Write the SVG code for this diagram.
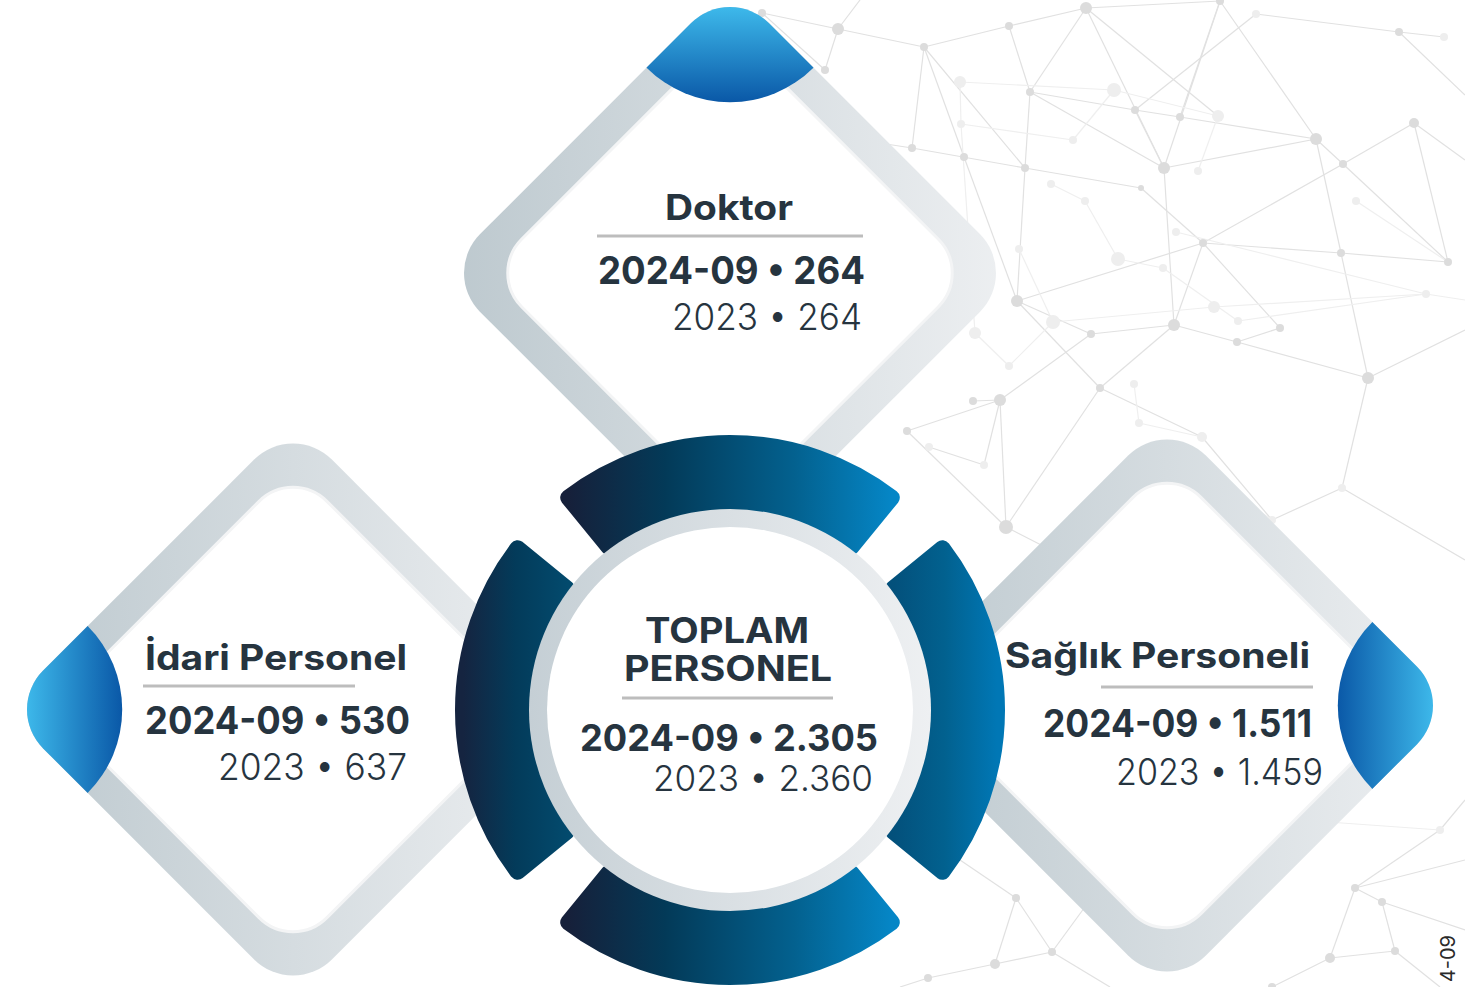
<svg xmlns="http://www.w3.org/2000/svg" width="1465" height="987" viewBox="0 0 1465 987">
<style>
.net{stroke:#e1e1e1;stroke-width:1.2;fill:none}
.netl{stroke:#efefef;stroke-width:1.2;fill:none}
.dot{fill:#dcdcdc}
.dotl{fill:#eeeeee}
.t{font-family:Inter,"Noto Sans","Liberation Sans",sans-serif;fill:#26343f}
.b{font-weight:700}
.l{font-weight:300}
.rule{stroke:#bdbdbd;stroke-width:3}
.seg{stroke-width:16;stroke-linejoin:round}
</style>
<defs>
<linearGradient id="band" x1="0" y1="1" x2="1" y2="0">
<stop offset="0" stop-color="#bcc8ce"/>
<stop offset="1" stop-color="#eef0f2"/>
</linearGradient>
<linearGradient id="capTop" gradientUnits="userSpaceOnUse" x1="0" y1="8" x2="0" y2="102">
<stop offset="0" stop-color="#3db8ea"/>
<stop offset="1" stop-color="#0a58a7"/>
</linearGradient>
<linearGradient id="capLeft" gradientUnits="userSpaceOnUse" x1="27" y1="0" x2="122" y2="0">
<stop offset="0" stop-color="#3db8ea"/>
<stop offset="1" stop-color="#0a58a7"/>
</linearGradient>
<linearGradient id="capRight" gradientUnits="userSpaceOnUse" x1="1337" y1="0" x2="1433" y2="0">
<stop offset="0" stop-color="#0a58a7"/>
<stop offset="1" stop-color="#3db8ea"/>
</linearGradient>
<linearGradient id="segTB" x1="0" y1="0" x2="1" y2="0">
<stop offset="0" stop-color="#16203a"/>
<stop offset="0.3" stop-color="#033a58"/>
<stop offset="0.7" stop-color="#03618f"/>
<stop offset="1" stop-color="#0586c6"/>
</linearGradient>
<linearGradient id="segL" x1="0" y1="0" x2="1" y2="0">
<stop offset="0" stop-color="#152440"/>
<stop offset="0.5" stop-color="#033b5a"/>
<stop offset="1" stop-color="#034a6d"/>
</linearGradient>
<linearGradient id="segR" x1="0" y1="0" x2="1" y2="0">
<stop offset="0" stop-color="#03507b"/>
<stop offset="0.5" stop-color="#02618f"/>
<stop offset="1" stop-color="#0077b5"/>
</linearGradient>
<linearGradient id="ringGrey" gradientUnits="userSpaceOnUse" x1="529" y1="0" x2="931" y2="0">
<stop offset="0" stop-color="#c5cfd5"/>
<stop offset="1" stop-color="#eef0f2"/>
</linearGradient>
<clipPath id="dTop"><rect x="-204.2" y="-204.2" width="408.4" height="408.4" rx="55" transform="translate(730 273) rotate(45)"/></clipPath>
<clipPath id="dLeft"><rect x="-204.2" y="-204.2" width="408.4" height="408.4" rx="55" transform="translate(293 709.5) rotate(45)"/></clipPath>
<clipPath id="dRight"><rect x="-204.2" y="-204.2" width="408.4" height="408.4" rx="55" transform="translate(1167 705.5) rotate(45)"/></clipPath>
</defs>
<rect width="1465" height="987" fill="#ffffff"/>

<g id="background-network">
<g class="net">
<line x1="762" y1="13" x2="838" y2="29"/>
<line x1="838" y1="29" x2="825" y2="70"/>
<line x1="762" y1="13" x2="825" y2="70"/>
<line x1="838" y1="29" x2="860" y2="0"/>
<line x1="838" y1="29" x2="924" y2="47"/>
<line x1="1086" y1="8" x2="1009" y2="26"/>
<line x1="1009" y1="26" x2="924" y2="47"/>
<line x1="1086" y1="8" x2="1220" y2="1"/>
<line x1="1086" y1="8" x2="1030" y2="92"/>
<line x1="1086" y1="8" x2="1164" y2="168"/>
<line x1="1086" y1="8" x2="1218" y2="116"/>
<line x1="1009" y1="26" x2="1030" y2="92"/>
<line x1="924" y1="47" x2="912" y2="148"/>
<line x1="924" y1="47" x2="964" y2="157"/>
<line x1="924" y1="47" x2="1025" y2="168"/>
<line x1="1030" y1="92" x2="1135" y2="110"/>
<line x1="1135" y1="110" x2="1180" y2="117"/>
<line x1="1180" y1="117" x2="1316" y2="139"/>
<line x1="1030" y1="92" x2="1164" y2="168"/>
<line x1="1030" y1="92" x2="1025" y2="168"/>
<line x1="1025" y1="168" x2="1017" y2="301"/>
<line x1="912" y1="148" x2="1025" y2="168"/>
<line x1="1025" y1="168" x2="1141" y2="188"/>
<line x1="1141" y1="188" x2="1203" y2="243"/>
<line x1="1164" y1="168" x2="1316" y2="139"/>
<line x1="1164" y1="168" x2="1174" y2="325"/>
<line x1="1164" y1="168" x2="1135" y2="110"/>
<line x1="1220" y1="1" x2="1180" y2="117"/>
<line x1="1220" y1="1" x2="1316" y2="139"/>
<line x1="1220" y1="1" x2="1164" y2="168"/>
<line x1="1256" y1="14" x2="1399" y2="32"/>
<line x1="1399" y1="32" x2="1444" y2="37"/>
<line x1="1399" y1="32" x2="1465" y2="95"/>
<line x1="1256" y1="14" x2="1135" y2="110"/>
<line x1="1316" y1="139" x2="1343" y2="164"/>
<line x1="1343" y1="164" x2="1414" y2="123"/>
<line x1="1414" y1="123" x2="1448" y2="262"/>
<line x1="1343" y1="164" x2="1448" y2="262"/>
<line x1="1343" y1="164" x2="1203" y2="243"/>
<line x1="1316" y1="139" x2="1341" y2="253"/>
<line x1="1341" y1="253" x2="1368" y2="378"/>
<line x1="1203" y1="243" x2="1341" y2="253"/>
<line x1="1341" y1="253" x2="1448" y2="262"/>
<line x1="1203" y1="243" x2="1017" y2="301"/>
<line x1="1203" y1="243" x2="1174" y2="325"/>
<line x1="1203" y1="243" x2="1280" y2="328"/>
<line x1="1017" y1="301" x2="1091" y2="334"/>
<line x1="1091" y1="334" x2="1174" y2="325"/>
<line x1="1174" y1="325" x2="1237" y2="342"/>
<line x1="1237" y1="342" x2="1280" y2="328"/>
<line x1="1237" y1="342" x2="1368" y2="378"/>
<line x1="1017" y1="301" x2="1100" y2="388"/>
<line x1="1174" y1="325" x2="1100" y2="388"/>
<line x1="1100" y1="388" x2="1202" y2="437"/>
<line x1="1000" y1="400" x2="907" y2="431"/>
<line x1="1000" y1="400" x2="1091" y2="334"/>
<line x1="1000" y1="400" x2="973" y2="401"/>
<line x1="964" y1="157" x2="1017" y2="301"/>
<line x1="912" y1="148" x2="860" y2="140"/>
<line x1="1000" y1="400" x2="1006" y2="527"/>
<line x1="1100" y1="388" x2="1006" y2="527"/>
<line x1="907" y1="431" x2="1006" y2="527"/>
<line x1="1006" y1="527" x2="1090" y2="570"/>
<line x1="929" y1="447" x2="984" y2="465"/>
<line x1="984" y1="465" x2="1000" y2="400"/>
<line x1="1272" y1="520" x2="1342" y2="488"/>
<line x1="1342" y1="488" x2="1368" y2="378"/>
<line x1="1272" y1="520" x2="1202" y2="437"/>
<line x1="1368" y1="378" x2="1465" y2="330"/>
<line x1="1414" y1="123" x2="1465" y2="160"/>
<line x1="1342" y1="488" x2="1465" y2="560"/>
<line x1="1355" y1="888" x2="1382" y2="902"/>
<line x1="1382" y1="902" x2="1395" y2="951"/>
<line x1="1395" y1="951" x2="1330" y2="958"/>
<line x1="1330" y1="958" x2="1355" y2="888"/>
<line x1="1355" y1="888" x2="1465" y2="860"/>
<line x1="1382" y1="902" x2="1465" y2="930"/>
<line x1="1395" y1="951" x2="1440" y2="987"/>
<line x1="1330" y1="958" x2="1272" y2="987"/>
<line x1="1355" y1="888" x2="1440" y2="830"/>
<line x1="1440" y1="830" x2="1465" y2="800"/>
<line x1="995" y1="964" x2="928" y2="978"/>
<line x1="995" y1="964" x2="1016" y2="898"/>
<line x1="1016" y1="898" x2="1052" y2="952"/>
<line x1="1052" y1="952" x2="995" y2="964"/>
<line x1="1052" y1="952" x2="1110" y2="987"/>
<line x1="928" y1="978" x2="900" y2="987"/>
<line x1="1016" y1="898" x2="960" y2="860"/>
<line x1="1052" y1="952" x2="1090" y2="900"/>
</g>
<g class="netl">
<line x1="960" y1="82" x2="961" y2="124"/>
<line x1="961" y1="124" x2="975" y2="333"/>
<line x1="960" y1="82" x2="1114" y2="90"/>
<line x1="1114" y1="90" x2="1218" y2="116"/>
<line x1="1218" y1="116" x2="1198" y2="171"/>
<line x1="1051" y1="184" x2="1085" y2="201"/>
<line x1="1085" y1="201" x2="1118" y2="259"/>
<line x1="1118" y1="259" x2="1163" y2="268"/>
<line x1="1176" y1="232" x2="1426" y2="294"/>
<line x1="1019" y1="249" x2="1053" y2="322"/>
<line x1="1053" y1="322" x2="1214" y2="307"/>
<line x1="1214" y1="307" x2="1426" y2="294"/>
<line x1="975" y1="333" x2="1009" y2="366"/>
<line x1="1134" y1="384" x2="1139" y2="423"/>
<line x1="1073" y1="140" x2="1114" y2="90"/>
<line x1="1356" y1="201" x2="1448" y2="262"/>
<line x1="1009" y1="366" x2="1053" y2="322"/>
<line x1="961" y1="124" x2="1073" y2="140"/>
<line x1="1238" y1="321" x2="1426" y2="294"/>
<line x1="1163" y1="268" x2="1238" y2="321"/>
<line x1="1139" y1="423" x2="1202" y2="437"/>
<line x1="1426" y1="294" x2="1465" y2="300"/>
<line x1="1272" y1="520" x2="1200" y2="470"/>
<line x1="1440" y1="830" x2="1300" y2="820"/>
</g>
<g class="dot">
<circle cx="1086" cy="8" r="6"/><circle cx="1009" cy="26" r="4"/><circle cx="924" cy="47" r="4"/>
<circle cx="1220" cy="1" r="4"/><circle cx="1399" cy="32" r="4"/><circle cx="1030" cy="92" r="4"/>
<circle cx="1135" cy="110" r="4"/><circle cx="1180" cy="117" r="4"/><circle cx="1316" cy="139" r="6"/>
<circle cx="1414" cy="123" r="5"/><circle cx="1343" cy="164" r="4"/><circle cx="912" cy="148" r="4"/>
<circle cx="964" cy="157" r="4"/><circle cx="1025" cy="168" r="4"/><circle cx="1164" cy="168" r="6"/>
<circle cx="1141" cy="188" r="3"/><circle cx="1203" cy="243" r="4"/><circle cx="1341" cy="253" r="4"/>
<circle cx="1448" cy="262" r="4"/><circle cx="1017" cy="301" r="6"/><circle cx="1091" cy="334" r="4"/>
<circle cx="1174" cy="325" r="6"/><circle cx="1280" cy="328" r="4"/><circle cx="1237" cy="342" r="4"/>
<circle cx="1368" cy="378" r="6"/><circle cx="1100" cy="388" r="4"/><circle cx="1000" cy="400" r="6"/>
<circle cx="973" cy="401" r="4"/><circle cx="907" cy="431" r="4"/><circle cx="762" cy="13" r="4"/>
<circle cx="838" cy="29" r="6"/><circle cx="825" cy="70" r="4"/><circle cx="1006" cy="527" r="7"/>
<circle cx="1355" cy="888" r="4"/><circle cx="1382" cy="902" r="4"/><circle cx="1395" cy="951" r="4"/>
<circle cx="1330" cy="958" r="5"/><circle cx="1272" cy="987" r="4"/><circle cx="995" cy="964" r="5"/>
<circle cx="928" cy="978" r="4"/><circle cx="1016" cy="898" r="4"/><circle cx="1052" cy="952" r="4"/>
</g>
<g class="dotl">
<circle cx="1256" cy="14" r="4"/><circle cx="1444" cy="37" r="4"/><circle cx="1114" cy="90" r="7"/>
<circle cx="1218" cy="116" r="6"/><circle cx="1198" cy="171" r="4"/><circle cx="1356" cy="201" r="4"/>
<circle cx="961" cy="124" r="4"/><circle cx="960" cy="82" r="6"/><circle cx="1085" cy="201" r="4"/>
<circle cx="1051" cy="184" r="4"/><circle cx="1019" cy="249" r="4"/><circle cx="1118" cy="259" r="7"/>
<circle cx="1163" cy="268" r="4"/><circle cx="1176" cy="232" r="4"/><circle cx="1053" cy="322" r="7"/>
<circle cx="1214" cy="307" r="6"/><circle cx="1238" cy="321" r="4"/><circle cx="1426" cy="294" r="4"/>
<circle cx="975" cy="333" r="6"/><circle cx="1009" cy="366" r="4"/><circle cx="1202" cy="437" r="5"/>
<circle cx="1134" cy="384" r="4"/><circle cx="1139" cy="423" r="4"/><circle cx="1073" cy="140" r="4"/>
<circle cx="929" cy="447" r="4"/><circle cx="984" cy="465" r="4"/><circle cx="1272" cy="520" r="4"/>
<circle cx="1342" cy="488" r="4"/><circle cx="1440" cy="830" r="4"/><circle cx="1300" cy="820" r="4"/>
</g>
</g>

<g id="connectors"></g>

<g id="node-doktor">
<rect x="-204.2" y="-204.2" width="408.4" height="408.4" rx="55" fill="url(#band)" transform="translate(730 273) rotate(45)"/>
<rect x="-171.2" y="-171.2" width="342.4" height="342.4" rx="48" fill="#ffffff" stroke="#f3f4f5" stroke-width="3" transform="translate(730 273) rotate(45)"/>
<circle cx="730" cy="-15.8" r="118" fill="url(#capTop)" clip-path="url(#dTop)"/>
<text class="t b" x="665" y="220" font-size="35" textLength="128" lengthAdjust="spacingAndGlyphs">Doktor</text>
<line class="rule" x1="597" y1="236" x2="863" y2="236"/>
<text class="t b" x="598" y="284" font-size="38" textLength="267" lengthAdjust="spacingAndGlyphs">2024-09 • 264</text>
<text class="t l" x="672" y="330" font-size="37" textLength="190" lengthAdjust="spacingAndGlyphs">2023 • 264</text>
</g>

<g id="node-idari-personel">
<rect x="-204.2" y="-204.2" width="408.4" height="408.4" rx="55" fill="url(#band)" transform="translate(293 709.5) rotate(45)"/>
<rect x="-171.2" y="-171.2" width="342.4" height="342.4" rx="48" fill="#ffffff" stroke="#f3f4f5" stroke-width="3" transform="translate(293 709.5) rotate(45)"/>
<circle cx="4.2" cy="709.5" r="118" fill="url(#capLeft)" clip-path="url(#dLeft)"/>
<text class="t b" x="145" y="670" font-size="35" textLength="262" lengthAdjust="spacingAndGlyphs">İdari Personel</text>
<line class="rule" x1="143" y1="686" x2="355" y2="686"/>
<text class="t b" x="145" y="734" font-size="38" textLength="265" lengthAdjust="spacingAndGlyphs">2024-09 • 530</text>
<text class="t l" x="218" y="780" font-size="37" textLength="189" lengthAdjust="spacingAndGlyphs">2023 • 637</text>
</g>

<g id="node-saglik-personeli">
<rect x="-204.2" y="-204.2" width="408.4" height="408.4" rx="55" fill="url(#band)" transform="translate(1167 705.5) rotate(45)"/>
<rect x="-171.2" y="-171.2" width="342.4" height="342.4" rx="48" fill="#ffffff" stroke="#f3f4f5" stroke-width="3" transform="translate(1167 705.5) rotate(45)"/>
<circle cx="1455.8" cy="705.5" r="118" fill="url(#capRight)" clip-path="url(#dRight)"/>
<text class="t b" x="1005" y="668" font-size="35" textLength="305" lengthAdjust="spacingAndGlyphs">Sağlık Personeli</text>
<line class="rule" x1="1101" y1="687" x2="1313" y2="687"/>
<text class="t b" x="1043" y="737" font-size="38" textLength="269" lengthAdjust="spacingAndGlyphs">2024-09 • 1.511</text>
<text class="t l" x="1116" y="785" font-size="37" textLength="207" lengthAdjust="spacingAndGlyphs">2023 • 1.459</text>
</g>

<g id="node-toplam-personel">
<path class="seg" fill="url(#segTB)" stroke="url(#segTB)" d="M568.2 497.6 A267 267 0 0 1 891.8 497.6 L851.3 547.2 A203 203 0 0 0 608.7 547.2 Z"/>
<path class="seg" fill="url(#segL)" stroke="url(#segL)" d="M517.6 871.8 A267 267 0 0 1 517.6 548.2 L567.2 588.7 A203 203 0 0 0 567.2 831.3 Z"/>
<path class="seg" fill="url(#segR)" stroke="url(#segR)" d="M942.4 548.2 A267 267 0 0 1 942.4 871.8 L892.8 831.3 A203 203 0 0 0 892.8 588.7 Z"/>
<path class="seg" fill="url(#segTB)" stroke="url(#segTB)" d="M891.8 922.4 A267 267 0 0 1 568.2 922.4 L608.7 872.8 A203 203 0 0 0 851.3 872.8 Z"/>
<circle cx="730" cy="710" r="201" fill="url(#ringGrey)"/>
<circle cx="730" cy="710" r="183" fill="#ffffff"/>
<text class="t b" x="645" y="643" font-size="35" textLength="164" lengthAdjust="spacingAndGlyphs">TOPLAM</text>
<text class="t b" x="624" y="681" font-size="35" textLength="208" lengthAdjust="spacingAndGlyphs">PERSONEL</text>
<line class="rule" x1="622" y1="698" x2="833" y2="698"/>
<text class="t b" x="580" y="751" font-size="37" textLength="298" lengthAdjust="spacingAndGlyphs">2024-09 • 2.305</text>
<text class="t l" x="653" y="791" font-size="35" textLength="220" lengthAdjust="spacingAndGlyphs">2023 • 2.360</text>
</g>

<g id="footer-date">
<text x="1455" y="935" font-family="Inter,'Noto Sans','Liberation Sans',sans-serif" font-size="20" fill="#2a2a2a" text-anchor="end" transform="rotate(-90 1455 935)">4-09</text>
</g>
</svg>
